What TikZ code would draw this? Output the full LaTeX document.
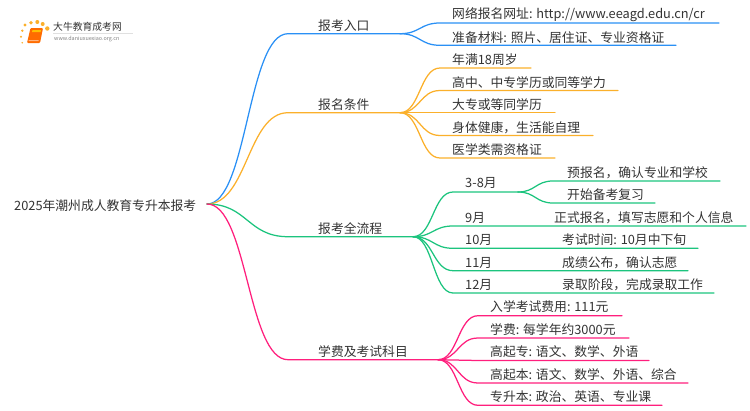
\documentclass[tikz,border=0pt]{standalone}
\usepackage{fontspec}
\setmainfont{Noto Sans CJK SC}
\definecolor{cblue}{HTML}{2A90F5}
\definecolor{corange}{HTML}{FBB02B}
\definecolor{cgreen}{HTML}{1CC47E}
\definecolor{cpink}{HTML}{FF1F7D}
\definecolor{ctext}{HTML}{333333}
\tikzset{
  lab/.style={anchor=west,inner sep=0pt,yshift=-0.8pt,text=ctext,font=\fontsize{12.8}{13}\selectfont},
  wire/.style={line width=1.25pt,line cap=round},
  bluew/.style={wire,draw=cblue},
  orangew/.style={wire,draw=corange},
  greenw/.style={wire,draw=cgreen},
  pinkw/.style={wire,draw=cpink}
}
% #1 style, #2 from coordinate, #3 bend end coordinate, #4 line end
\newcommand{\curveto}[4]{%
  \draw[#1] (#2) .. controls ($(#2)!0.5!(#2 -| #3)$) and ($(#3)!0.5!(#3 -| #2)$) .. (#3) -- (#4);}
\usetikzlibrary{calc}
\begin{document}
\begin{tikzpicture}[x=1pt,y=-1pt]
\useasboundingbox (0,0) rectangle (750,410);
% text
\node[lab] (root) at (14,205) {2025年潮州成人教育专升本报考};
\coordinate (r) at (207,204);
% level 1
\node[lab] (t1) at (318,25) {报考入口};
\node[lab] (t2) at (318,104) {报名条件};
\node[lab] (t3) at (318,228) {报考全流程};
\node[lab] (t4) at (318,351) {学费及考试科目};
\coordinate (b1) at (288,33.7); \coordinate (e1) at (400,33.7);
\coordinate (b2) at (288,112.7); \coordinate (e2) at (400,112.7);
\coordinate (b3) at (288,236.7); \coordinate (e3) at (413,236.7);
\coordinate (b4) at (288,359.7); \coordinate (e4) at (438,359.7);
\curveto{bluew}{r}{b1}{e1}
\curveto{orangew}{r}{b2}{e2}
\curveto{greenw}{r}{b3}{e3}
\curveto{pinkw}{r}{b4}{e4}
% blue leaves
\node[lab] (a1) at (452,14) {网络报名网址: http://www.eeagd.edu.cn/cr};
\node[lab] (a2) at (452,37) {准备材料: 照片、居住证、专业资格证};
\coordinate (a1b) at (440,23); \coordinate (a1e) at (719,23);
\coordinate (a2b) at (440,45.3); \coordinate (a2e) at (676,45.3);
\curveto{bluew}{e1}{a1b}{a1e}
\curveto{bluew}{e1}{a2b}{a2e}
% orange leaves
\node[lab] (o1) at (452,59) {年满18周岁};
\node[lab] (o2) at (452,82) {高中、中专学历或同等学力};
\node[lab] (o3) at (452,104) {大专或等同学历};
\node[lab] (o4) at (452,127) {身体健康，生活能自理};
\node[lab] (o5) at (452,149) {医学类需资格证};
\coordinate (o1b) at (440,68); \coordinate (o1e) at (531,68);
\coordinate (o2b) at (440,90.5); \coordinate (o2e) at (618,90.5);
\coordinate (o3b) at (440,112.7); \coordinate (o3e) at (555,112.7);
\coordinate (o4b) at (440,135.5); \coordinate (o4e) at (593,135.5);
\coordinate (o5b) at (440,158); \coordinate (o5e) at (555,158);
\curveto{orangew}{e2}{o1b}{o1e}
\curveto{orangew}{e2}{o2b}{o2e}
\curveto{orangew}{e2}{o3b}{o3e}
\curveto{orangew}{e2}{o4b}{o4e}
\curveto{orangew}{e2}{o5b}{o5e}
% green leaves
\node[lab] (g1) at (465,182) {3-8月};
\node[lab] (g2) at (465,217) {9月};
\node[lab] (g3) at (465,239) {10月};
\node[lab] (g4) at (465,262) {11月};
\node[lab] (g5) at (465,284) {12月};
\node[lab] (h1) at (567,172) {预报名，确认专业和学校};
\node[lab] (h2) at (567,194) {开始备考复习};
\node[lab] (h3) at (554,217) {正式报名，填写志愿和个人信息};
\node[lab] (h4) at (562,239) {考试时间: 10月中下旬};
\node[lab] (h5) at (562,262) {成绩公布，确认志愿};
\node[lab] (h6) at (562,284) {录取阶段，完成录取工作};
\coordinate (g1b) at (453,192); \coordinate (g1e) at (518,192);
\coordinate (g2b) at (453,226); \coordinate (g2e) at (746,226);
\coordinate (g3b) at (453,248.3); \coordinate (g3e) at (698,248.3);
\coordinate (g4b) at (453,270.7); \coordinate (g4e) at (688,270.7);
\coordinate (g5b) at (453,293); \coordinate (g5e) at (714,293);
\coordinate (h1b) at (553,181); \coordinate (h1e) at (720,181);
\coordinate (h2b) at (553,203); \coordinate (h2e) at (655,203);
\curveto{greenw}{e3}{g1b}{g1e}
\curveto{greenw}{e3}{g2b}{g2e}
\curveto{greenw}{e3}{g3b}{g3e}
\curveto{greenw}{e3}{g4b}{g4e}
\curveto{greenw}{e3}{g5b}{g5e}
\curveto{greenw}{g1e}{h1b}{h1e}
\curveto{greenw}{g1e}{h2b}{h2e}
% pink leaves
\node[lab] (p1) at (490,306) {入学考试费用: 111元};
\node[lab] (p2) at (490,329) {学费: 每学年约3000元};
\node[lab] (p3) at (490,351) {高起专: 语文、数学、外语};
\node[lab] (p4) at (490,374) {高起本: 语文、数学、外语、综合};
\node[lab] (p5) at (490,396) {专升本: 政治、英语、专业课};
\coordinate (p1b) at (478,315.7); \coordinate (p1e) at (622,315.7);
\coordinate (p2b) at (478,338); \coordinate (p2e) at (629,338);
\coordinate (p3b) at (478,360.5); \coordinate (p3e) at (649,360.5);
\coordinate (p4b) at (478,383); \coordinate (p4e) at (688,383);
\coordinate (p5b) at (478,405.3); \coordinate (p5e) at (662,405.3);
\curveto{pinkw}{e4}{p1b}{p1e}
\curveto{pinkw}{e4}{p2b}{p2e}
\curveto{pinkw}{e4}{p3b}{p3e}
\curveto{pinkw}{e4}{p4b}{p4e}
\curveto{pinkw}{e4}{p5b}{p5e}
% logo
\foreach \x/\y/\s in {25/25/1.6,31/22.7/1.9,37.3/22/2,42.7/24/2,47.3/28.5/2.2,22.3/30.7/1.3,21/36.7/1.1,22.3/42.7/.9}
  \fill[corange] (\x,\y) circle (\s);
\fill[orange!85!red,rounded corners=1pt] (30.5,28) -- (43,28) -- (40,43) -- (27,43) -- cycle;
\fill[orange!50!yellow] (32.5,30) -- (41,30) -- (40.6,32) -- (32,32) -- cycle;
\fill[white,opacity=.5] (28.5,41) -- (38.5,41) -- (38.7,40) -- (28.7,40) -- cycle;
\node[anchor=west,inner sep=0pt,text=ctext,font=\fontsize{9.8}{10}\selectfont] (lg) at (53,27) {大牛教育成考网};
\node[anchor=west,inner sep=0pt,text=gray,font=\fontsize{5.4}{6}\selectfont] (lu) at (54,39) {www.daniuxuexiao.org.cn};
\draw[black!12,line width=.5pt] (53,33) -- (133,33);
\end{tikzpicture}
\end{document}
